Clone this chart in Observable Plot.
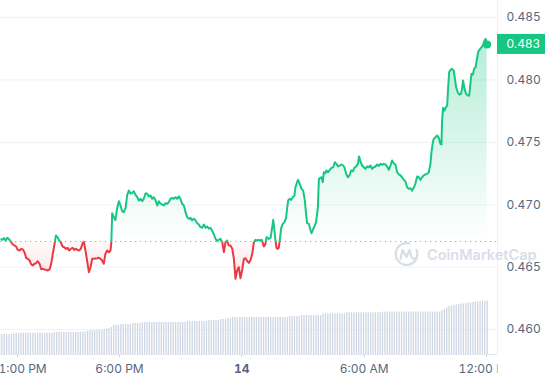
<!DOCTYPE html>
<html><head><meta charset="utf-8">
<script src="https://cdn.jsdelivr.net/npm/d3@7"></script>
<script src="https://cdn.jsdelivr.net/npm/@observablehq/plot@0.6"></script>
<style>
body{margin:0;background:#fff;font-family:Inter,sans-serif}
#wrap{position:relative;width:545px;height:380px;overflow:hidden}
#wrap svg{position:absolute;left:0;top:0}
</style></head><body><div id="wrap"></div>
<script>
// time in hours of day 13 (24 = midnight "14", 36 = 12:00 PM next day)
const times = [12.00,12.16,12.25,12.33,12.41,12.49,12.57,12.65,12.77,12.85,12.93,13.01,13.10,13.18,13.26,13.34,13.42,13.50,13.59,13.67,13.75,13.83,13.91,13.99,14.08,14.16,14.24,14.32,14.40,14.49,14.57,14.65,14.73,14.81,14.88,14.96,15.04,15.12,15.21,15.29,15.37,15.45,15.53,15.61,15.70,15.78,15.86,15.94,16.02,16.10,16.19,16.25,16.33,16.41,16.50,16.58,16.66,16.74,16.82,16.91,16.99,17.07,17.15,17.23,17.31,17.39,17.48,17.56,17.60,17.64,17.72,17.80,17.88,17.97,18.05,18.13,18.21,18.30,18.38,18.46,18.54,18.62,18.70,18.78,18.87,18.95,19.03,19.11,19.19,19.28,19.36,19.44,19.52,19.60,19.68,19.77,19.85,19.93,20.01,20.09,20.17,20.26,20.34,20.42,20.50,20.58,20.66,20.75,20.83,20.91,20.99,21.07,21.16,21.24,21.32,21.40,21.48,21.56,21.65,21.73,21.81,21.89,21.97,22.05,22.14,22.22,22.30,22.38,22.46,22.54,22.63,22.71,22.79,22.87,22.95,23.04,23.12,23.20,23.28,23.36,23.44,23.53,23.61,23.69,23.77,23.85,23.93,24.02,24.10,24.18,24.26,24.34,24.42,24.51,24.59,24.67,24.75,24.83,24.91,24.98,25.08,25.16,25.21,25.32,25.41,25.49,25.54,25.60,25.65,25.70,25.76,25.81,25.86,25.93,26.01,26.09,26.17,26.22,26.27,26.35,26.42,26.50,26.58,26.63,26.71,26.76,26.84,26.93,27.01,27.09,27.15,27.20,27.29,27.37,27.42,27.48,27.56,27.64,27.73,27.78,27.86,27.91,27.97,28.02,28.10,28.15,28.23,28.31,28.40,28.48,28.56,28.64,28.72,28.81,28.89,28.97,29.03,29.12,29.20,29.28,29.36,29.44,29.52,29.61,29.69,29.75,29.82,29.90,29.98,30.06,30.14,30.23,30.31,30.39,30.47,30.55,30.64,30.72,30.80,30.88,30.96,31.04,31.13,31.21,31.29,31.37,31.45,31.53,31.62,31.70,31.78,31.86,31.94,32.02,32.11,32.19,32.27,32.35,32.43,32.51,32.60,32.68,32.76,32.84,32.92,33.00,33.09,33.17,33.25,33.30,33.37,33.41,33.50,33.58,33.66,33.74,33.79,33.82,33.87,33.94,34.00,34.07,34.12,34.17,34.23,34.31,34.39,34.44,34.51,34.59,34.67,34.75,34.80,34.85,34.92,35.00,35.08,35.15,35.21,35.26,35.33,35.39,35.46,35.52,35.59,35.65,35.73,35.82,35.90,35.96,36.03];
const prices = [0.46706,0.46727,0.46719,0.46733,0.46714,0.46735,0.46727,0.46709,0.46682,0.46674,0.46666,0.46639,0.46634,0.46647,0.46642,0.46620,0.46575,0.46567,0.46554,0.46522,0.46514,0.46527,0.46532,0.46548,0.46527,0.46484,0.46487,0.46482,0.46479,0.46474,0.46482,0.46527,0.46607,0.46682,0.46754,0.46741,0.46714,0.46700,0.46666,0.46660,0.46647,0.46655,0.46634,0.46647,0.46655,0.46639,0.46647,0.46639,0.46634,0.46647,0.46692,0.46706,0.46634,0.46554,0.46460,0.46500,0.46567,0.46567,0.46570,0.46572,0.46575,0.46567,0.46554,0.46527,0.46607,0.46634,0.46620,0.46634,0.46700,0.46933,0.46901,0.46879,0.46968,0.47029,0.46995,0.46948,0.46941,0.46975,0.47080,0.47114,0.47090,0.47093,0.47109,0.47082,0.47061,0.47034,0.47048,0.47029,0.47048,0.47093,0.47088,0.47067,0.47075,0.47048,0.47061,0.47034,0.46994,0.47029,0.47008,0.47003,0.46994,0.47013,0.47008,0.47021,0.47048,0.47056,0.47048,0.47061,0.47048,0.47067,0.47048,0.47008,0.46994,0.46941,0.46901,0.46888,0.46896,0.46875,0.46888,0.46875,0.46853,0.46842,0.46821,0.46816,0.46842,0.46816,0.46826,0.46808,0.46816,0.46794,0.46762,0.46728,0.46709,0.46720,0.46728,0.46701,0.46621,0.46701,0.46714,0.46674,0.46674,0.46648,0.46568,0.46407,0.46474,0.46500,0.46412,0.46480,0.46567,0.46572,0.46550,0.46534,0.46554,0.46607,0.46701,0.46719,0.46714,0.46719,0.46714,0.46719,0.46666,0.46687,0.46741,0.46727,0.46735,0.46821,0.46880,0.46794,0.46714,0.46655,0.46647,0.46655,0.46714,0.46815,0.46847,0.46861,0.46896,0.46968,0.47034,0.47048,0.47040,0.47061,0.47074,0.47141,0.47181,0.47200,0.47168,0.47128,0.47114,0.47034,0.46928,0.46853,0.46847,0.46794,0.46773,0.46799,0.46826,0.46861,0.46981,0.47208,0.47216,0.47221,0.47181,0.47261,0.47253,0.47275,0.47261,0.47280,0.47296,0.47301,0.47341,0.47328,0.47307,0.47315,0.47323,0.47315,0.47301,0.47248,0.47221,0.47235,0.47275,0.47269,0.47296,0.47307,0.47328,0.47387,0.47345,0.47315,0.47301,0.47288,0.47307,0.47301,0.47315,0.47288,0.47301,0.47307,0.47323,0.47312,0.47328,0.47320,0.47328,0.47323,0.47307,0.47280,0.47315,0.47355,0.47333,0.47323,0.47261,0.47243,0.47235,0.47221,0.47200,0.47189,0.47141,0.47128,0.47133,0.47114,0.47136,0.47168,0.47227,0.47221,0.47200,0.47221,0.47235,0.47243,0.47248,0.47261,0.47328,0.47421,0.47502,0.47528,0.47542,0.47555,0.47536,0.47488,0.47483,0.47675,0.47777,0.47755,0.47777,0.47795,0.47942,0.48062,0.48081,0.48089,0.48076,0.48022,0.47942,0.47902,0.47883,0.47889,0.47929,0.47996,0.47929,0.47889,0.47875,0.47875,0.47969,0.48049,0.48044,0.48089,0.48102,0.48156,0.48222,0.48241,0.48257,0.48276,0.48316,0.48329,0.48285];
const baseline = 0.46706; // opening price (dotted line)
// 24h volume bars, one every 7 minutes from 12:00 PM
const volumes = [
20,20,20,20,20,20,20,
21.3,21.3,21.3,21.3,21.3,21.3,21.3,21.3,21.3,21.3,21.3,21.3,21.3,21.3,21.3,21.3,21.3,
22.3,22.3,22.3,22.3,22.3,22.3,22.3,22.3,22.3,22.3,22.3,22.3,22.3,22.3,
23.3,23.7,24.2,23.5,24.5,24.5,24,25,25.5,26,27,29.3,29.3,29.3,
30,30,30,30,30,31,31,31,31,
32,32,32,32,32,32,32,32,32,32,32,32,32,32,32,32,32,32,32,
33,33,33,33,33,33,33,33,33,34,34,34,34,34,35,35,35,36,36,
37,37,37,37,37,37,37,37,37,37,37,37,37,37,37,37,37,37,37,37,37,37,37,37,
38,38,38,38,38,39,39,39,39,39,39,39,39,39,
40.7,40.7,40.7,40.7,40.7,40.7,40.7,40.7,40.7,40.7,
41.7,41.7,41.7,41.7,41.7,41.7,41.7,41.7,41.7,41.7,41.7,41.7,41.7,41.7,41.7,
42.5,42.5,42.5,42.5,42.5,42.5,42.5,42.5,42.5,42.5,42.5,42.5,42.5,42.5,42.5,42.5,42.5,42.5,42.5,42.5,42.5,42.5,42.5,42.5,42.5,
44,45,46.5,48,48.5,49,49.5,50,50.3,50.6,51,51.3,51.5,52,52.3,52.5,52.8,53.3,53.3,53.3];
const yTicks = [0.460,0.465,0.470,0.475,0.480,0.485];
const xTicks = [13,18,24,30,36];
const xLabels = ["1:00 PM","6:00 PM","14","6:00 AM","12:00 PM"];

const W = 545, H = 380, MR = 48, MB = 26;
const xDomain = [12.164, 36.539];
const yDomain = [0.458005, 0.48637];
const GREEN = "#16c784", RED = "#ea3943", TXT = "#58667e";

const data = times.map((t, i) => ({t, p: prices[i]}));
const volData = volumes.map((v, i) => ({t: 12 + i * 7 / 60, v}));
const last = data[data.length - 1];

const chart = Plot.plot({
  width: W, height: H, marginLeft: 0, marginRight: MR, marginTop: 0, marginBottom: MB,
  style: {background: "transparent", fontFamily: "Inter, sans-serif", fontSize: "12px", color: TXT},
  x: {domain: xDomain, axis: null},
  y: {domain: yDomain},
  marks: [
    Plot.gridY(yTicks, {stroke: "#eff2f5", strokeOpacity: 1}),
    Plot.axisY(yTicks, {anchor: "right", label: null, tickSize: 0, tickPadding: 9, tickFormat: d => d.toFixed(3)}),
    Plot.ruleX([xDomain[1]], {stroke: "#eff2f5"}),
    Plot.areaY(data, {x: "t", y1: baseline, y2: "p", fill: "url(#cmc-green)", ariaDescription: "above"}),
    Plot.areaY(data, {x: "t", y1: baseline, y2: "p", fill: "url(#cmc-red)", ariaDescription: "below"}),
    Plot.ruleY([baseline], {stroke: "#a1a7bb", strokeDasharray: "1.3,3.7"}),
    Plot.line(data, {x: "t", y: "p", stroke: GREEN, strokeWidth: 2, ariaDescription: "above"}),
    Plot.line(data, {x: "t", y: "p", stroke: RED, strokeWidth: 2, ariaDescription: "below"}),
    Plot.dot([last], {x: "t", y: "p", r: 4, fill: GREEN})
  ]
});

const ys = chart.scale("y");
const yb = ys.apply(baseline);
const svg = d3.select(chart);
const defs = svg.insert("defs", ":first-child");
defs.append("clipPath").attr("id", "clip-above").append("rect")
  .attr("x", 0).attr("y", 0).attr("width", W).attr("height", yb);
defs.append("clipPath").attr("id", "clip-below").append("rect")
  .attr("x", 0).attr("y", yb).attr("width", W).attr("height", H - yb);
const gg = defs.append("linearGradient").attr("id", "cmc-green").attr("gradientUnits", "userSpaceOnUse")
  .attr("x1", 0).attr("x2", 0).attr("y1", ys.apply(d3.max(prices))).attr("y2", yb);
gg.append("stop").attr("offset", 0).attr("stop-color", GREEN).attr("stop-opacity", 0.32);
gg.append("stop").attr("offset", 1).attr("stop-color", GREEN).attr("stop-opacity", 0.0);
const rg = defs.append("linearGradient").attr("id", "cmc-red").attr("gradientUnits", "userSpaceOnUse")
  .attr("x1", 0).attr("x2", 0).attr("y1", yb).attr("y2", ys.apply(d3.min(prices)));
rg.append("stop").attr("offset", 0).attr("stop-color", RED).attr("stop-opacity", 0.02);
rg.append("stop").attr("offset", 1).attr("stop-color", RED).attr("stop-opacity", 0.14);
svg.selectAll('[aria-description="above"]').attr("clip-path", "url(#clip-above)");
svg.selectAll('[aria-description="below"]').attr("clip-path", "url(#clip-below)");

// current price tag
const yl = ys.apply(last.p);
const x0 = W - MR;
svg.append("rect").attr("x", x0).attr("y", yl - 10).attr("width", MR).attr("height", 20).attr("fill", GREEN);
svg.append("text").attr("x", x0 + 9.5).attr("y", yl).attr("dy", "0.35em").attr("text-anchor", "start")
  .attr("fill", "#fff").attr("font-size", 12).attr("font-family", "Inter, sans-serif")
  .text(last.p.toFixed(3));

const vol = Plot.plot({
  width: W, height: H, marginLeft: 0, marginRight: MR, marginTop: 0, marginBottom: MB,
  style: {background: "transparent", fontFamily: "Inter, sans-serif", fontSize: "12px", color: TXT},
  x: {domain: xDomain},
  y: {domain: [0, H - MB], axis: null},
  marks: [
    Plot.ruleX(volData, {x: "t", y1: 0, y2: "v", stroke: "#cfd6e4", strokeWidth: 1.3}),
    Plot.ruleY([0], {stroke: "#e3e7ee"}),
    Plot.axisX(xTicks, {label: null, tickSize: 3, tickPadding: 6.5, stroke: "#cfd6e4",
      tickFormat: d => xLabels[xTicks.indexOf(d)]})
  ]
});
const vs = d3.select(vol);
const vdefs = vs.insert("defs", ":first-child");
vdefs.append("clipPath").attr("id", "clip-axis").append("rect")
  .attr("x", 0).attr("y", 0).attr("width", W - MR).attr("height", H);
vs.selectAll('g[aria-label^="x-axis"]').attr("clip-path", "url(#clip-axis)");
const tickTexts = vs.selectAll('g[aria-label="x-axis tick label"] text');
tickTexts.filter(function(){ return this.textContent === "14"; }).attr("font-weight", 700);
tickTexts.filter(function(){ return this.textContent === xLabels[0]; }).attr("dx", 5);

// watermark
const wm = vs.append("g").attr("opacity", 0.8).attr("transform", "translate(406.5,254)");
wm.append("path").attr("d", d3.arc()({innerRadius: 9.7, outerRadius: 12, startAngle: 0.35 * Math.PI, endAngle: 2.1 * Math.PI}))
  .attr("fill", "#cfd6e4");
wm.append("path").attr("d", "M-6,5 L-4,-4 L0,3 L3,-4 L5,3 Q7,6 9,4")
  .attr("fill", "none").attr("stroke", "#cfd6e4").attr("stroke-width", 2.2).attr("stroke-linejoin", "round").attr("stroke-linecap", "round");
vs.append("text").attr("x", 427).attr("y", 259.5).attr("text-anchor", "start").attr("fill", "#cfd6e4").attr("opacity", 0.8)
  .attr("font-size", 14.5).attr("font-weight", 600).attr("font-family", "Inter, sans-serif")
  .text("CoinMarketCap");

const wrap = document.getElementById("wrap");
wrap.appendChild(chart);
wrap.appendChild(vol);
</script>
</body></html>
